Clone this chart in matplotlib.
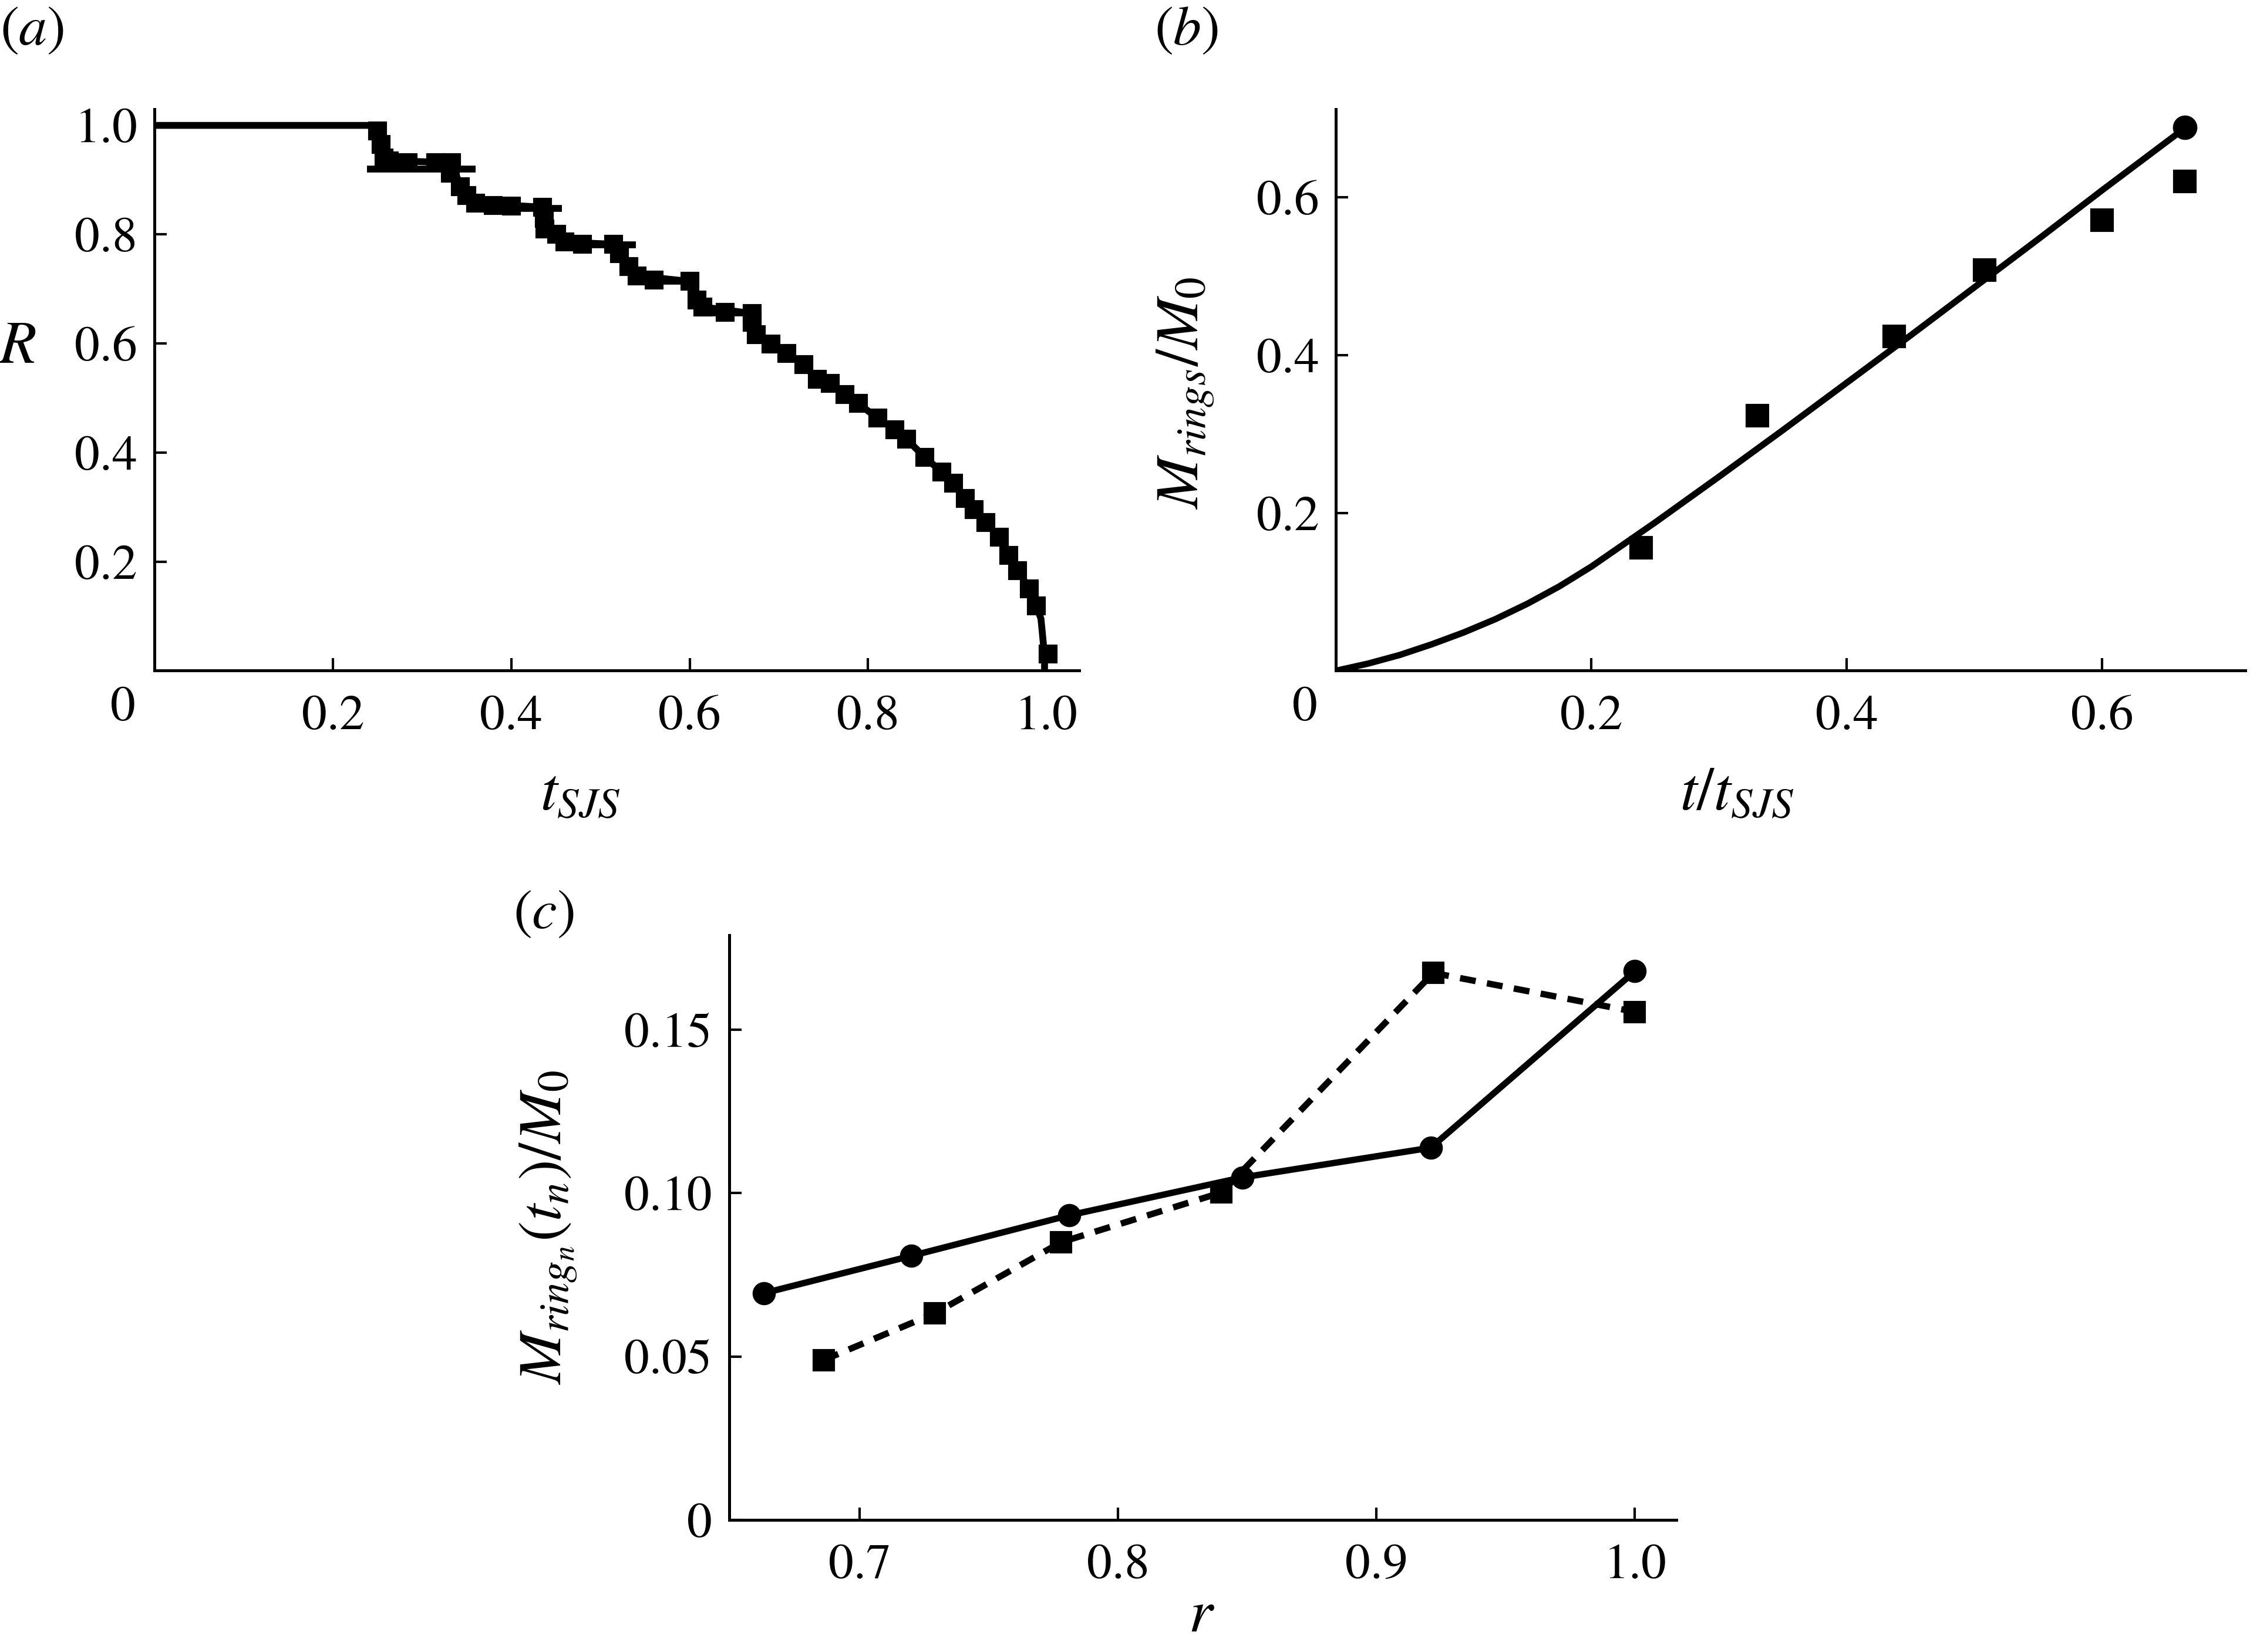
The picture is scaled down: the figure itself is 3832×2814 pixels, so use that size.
import matplotlib
matplotlib.use('Agg')
import matplotlib.pyplot as plt

plt.rcParams['font.family'] = ['STIXGeneral', 'DejaVu Serif']
plt.rcParams['mathtext.fontset'] = 'stix'

# (a) R against t_SJS
a_sq_t = [0.250, 0.254, 0.257, 0.263, 0.284, 0.315, 0.333, 0.332, 0.343, 0.350,
          0.360, 0.380, 0.400, 0.435, 0.437, 0.438, 0.451, 0.460, 0.480, 0.515,
          0.521, 0.532, 0.541, 0.560, 0.600, 0.608, 0.615, 0.640, 0.670, 0.670,
          0.675, 0.691, 0.709, 0.728, 0.743, 0.758, 0.774, 0.789, 0.811, 0.830,
          0.843, 0.864, 0.883, 0.896, 0.909, 0.919, 0.932, 0.947, 0.958, 0.968,
          0.981, 0.989, 1.002]
a_sq_R = [0.990, 0.965, 0.940, 0.935, 0.932, 0.932, 0.932, 0.912, 0.888, 0.871,
          0.857, 0.853, 0.852, 0.850, 0.830, 0.810, 0.800, 0.786, 0.782, 0.782,
          0.765, 0.741, 0.724, 0.716, 0.714, 0.680, 0.667, 0.657, 0.655, 0.639,
          0.616, 0.599, 0.582, 0.561, 0.534, 0.527, 0.507, 0.490, 0.463, 0.442,
          0.425, 0.391, 0.364, 0.344, 0.316, 0.296, 0.272, 0.245, 0.211, 0.184,
          0.150, 0.119, 0.031]
a_line_t = [0.0, 0.245, 0.250, 0.257, 0.263, 0.333, 0.343, 0.360, 0.435, 0.440,
            0.460, 0.515, 0.541, 0.600, 0.615, 0.670, 0.675, 0.691, 0.709, 0.728,
            0.743, 0.758, 0.774, 0.789, 0.811, 0.830, 0.843, 0.864, 0.883, 0.896,
            0.909, 0.919, 0.932, 0.947, 0.958, 0.968, 0.981, 0.989, 0.994, 0.996,
            0.998, 0.998]
a_line_R = [1.0, 1.0, 0.990, 0.940, 0.935, 0.932, 0.888, 0.857, 0.850, 0.820,
            0.786, 0.782, 0.724, 0.714, 0.667, 0.655, 0.616, 0.599, 0.582, 0.561,
            0.534, 0.527, 0.507, 0.490, 0.463, 0.442, 0.425, 0.391, 0.364, 0.344,
            0.316, 0.296, 0.272, 0.245, 0.211, 0.184, 0.150, 0.119, 0.095, 0.061,
            0.027, 0.0]
plateau_R = [0.920, 0.848, 0.781, 0.714, 0.656]
plateau_t0 = [0.238, 0.360, 0.455, 0.545, 0.625]
plateau_t1 = [0.360, 0.457, 0.540, 0.609, 0.677]

# (b) M_rings/M0 against t/t_SJS
b_curve_t = [0.0, 0.025, 0.05, 0.075, 0.1, 0.125, 0.15, 0.175, 0.2, 0.25, 0.3,
             0.35, 0.4, 0.45, 0.5, 0.55, 0.6, 0.665]
b_curve_M = [0.0, 0.009, 0.020, 0.0335, 0.0485, 0.0655, 0.085, 0.107, 0.132, 0.188,
             0.246, 0.305, 0.365, 0.425, 0.486, 0.547, 0.609, 0.688]
b_end_t = [0.665]
b_end_M = [0.689]
b_sq_t = [0.239, 0.330, 0.437, 0.508, 0.600, 0.665]
b_sq_M = [0.156, 0.323, 0.424, 0.508, 0.571, 0.620]

# (c) M_ring_n(t_n)/M0 against r
c_circ_r = [0.663, 0.720, 0.781, 0.848, 0.921, 1.000]
c_circ_M = [0.0694, 0.0808, 0.0932, 0.1048, 0.1139, 0.1679]
c_sq_r = [0.686, 0.729, 0.778, 0.840, 0.922, 1.000]
c_sq_M = [0.0489, 0.0632, 0.0850, 0.1002, 0.1674, 0.1555]

fig = plt.figure(figsize=(3832 / 300, 2814 / 300), dpi=300)
ax_a = fig.add_axes([0.0687, 0.594, 0.411, 0.340])
ax_b = fig.add_axes([0.5938, 0.594, 0.404, 0.340])
ax_c = fig.add_axes([0.324, 0.080, 0.421, 0.354])

fs = 20.5
for ax in (ax_a, ax_b, ax_c):
    ax.spines['top'].set_visible(False)
    ax.spines['right'].set_visible(False)
    for s in ('left', 'bottom'):
        ax.spines[s].set_linewidth(1.2)
    ax.tick_params(direction='in', length=5, width=1.0, labelsize=fs)
    ax.tick_params(axis='x', pad=10)
    ax.tick_params(axis='y', pad=7)

# panel a
ax_a.plot(a_line_t, a_line_R, color='black', lw=2.8, solid_joinstyle='miter')
ax_a.hlines(plateau_R, plateau_t0, plateau_t1, color='black', lw=2.8)
ax_a.plot(a_sq_t, a_sq_R, ls='none', marker='s', ms=6.5, color='black')
ax_a.set_xlim(0, 1.037)
ax_a.set_ylim(0, 1.03)
ax_a.set_xticks([0.2, 0.4, 0.6, 0.8, 1.0])
ax_a.set_xticklabels(['0.2', '0.4', '0.6', '0.8', '1.0'])
ax_a.set_yticks([0.2, 0.4, 0.6, 0.8, 1.0])
ax_a.set_yticklabels(['0.2', '0.4', '0.6', '0.8', '1.0'])
ax_a.text(-0.034, -0.068, '0', transform=ax_a.transAxes, ha='center', va='center', fontsize=fs)

# panel b
ax_b.plot(b_curve_t, b_curve_M, color='black', lw=2.6)
ax_b.plot(b_end_t, b_end_M, ls='none', marker='o', ms=9, color='black')
ax_b.plot(b_sq_t, b_sq_M, ls='none', marker='s', ms=8.5, color='black')
ax_b.set_xlim(0, 0.712)
ax_b.set_ylim(0, 0.712)
ax_b.set_xticks([0.2, 0.4, 0.6])
ax_b.set_xticklabels(['0.2', '0.4', '0.6'])
ax_b.set_yticks([0.2, 0.4, 0.6])
ax_b.set_yticklabels(['0.2', '0.4', '0.6'])
ax_b.text(-0.034, -0.068, '0', transform=ax_b.transAxes, ha='center', va='center', fontsize=fs)

# panel c
ax_c.plot(c_circ_r, c_circ_M, color='black', lw=2.6, marker='o', ms=8.5)
ax_c.plot(c_sq_r, c_sq_M, color='black', lw=2.6, ls=(0, (2.5, 1.8)), marker='s', ms=8)
ax_c.set_xlim(0.6494, 1.016)
ax_c.set_ylim(0, 0.179)
ax_c.set_xticks([0.7, 0.8, 0.9, 1.0])
ax_c.set_xticklabels(['0.7', '0.8', '0.9', '1.0'])
ax_c.set_yticks([0, 0.05, 0.10, 0.15])
ax_c.set_yticklabels(['0', '0.05', '0.10', '0.15'])

# labels
pfs = 23
lfs = 25
fig.text(0.0, 0.981, r'($a$)', fontsize=pfs, ha='left', va='center')
fig.text(0.513, 0.981, r'($b$)', fontsize=pfs, ha='left', va='center')
fig.text(0.228, 0.446, r'($c$)', fontsize=pfs, ha='left', va='center')

fig.text(0.0077, 0.789, r'$R$', fontsize=lfs, ha='center', va='center')
fig.text(0.258, 0.518, r'$t_{SJS}$', fontsize=lfs, ha='center', va='center')
fig.text(0.527, 0.762, r'$M_{rings}/M_0$', fontsize=lfs, ha='center', va='center', rotation=90)
fig.text(0.772, 0.518, r'$t/t_{SJS}$', fontsize=lfs, ha='center', va='center')
fig.text(0.244, 0.257, r'$M_{ring_n}(t_n)/M_0$', fontsize=lfs, ha='center', va='center', rotation=90)
fig.text(0.534, 0.021, r'$r$', fontsize=lfs, ha='center', va='center')

fig.savefig('out.png', dpi=300)
